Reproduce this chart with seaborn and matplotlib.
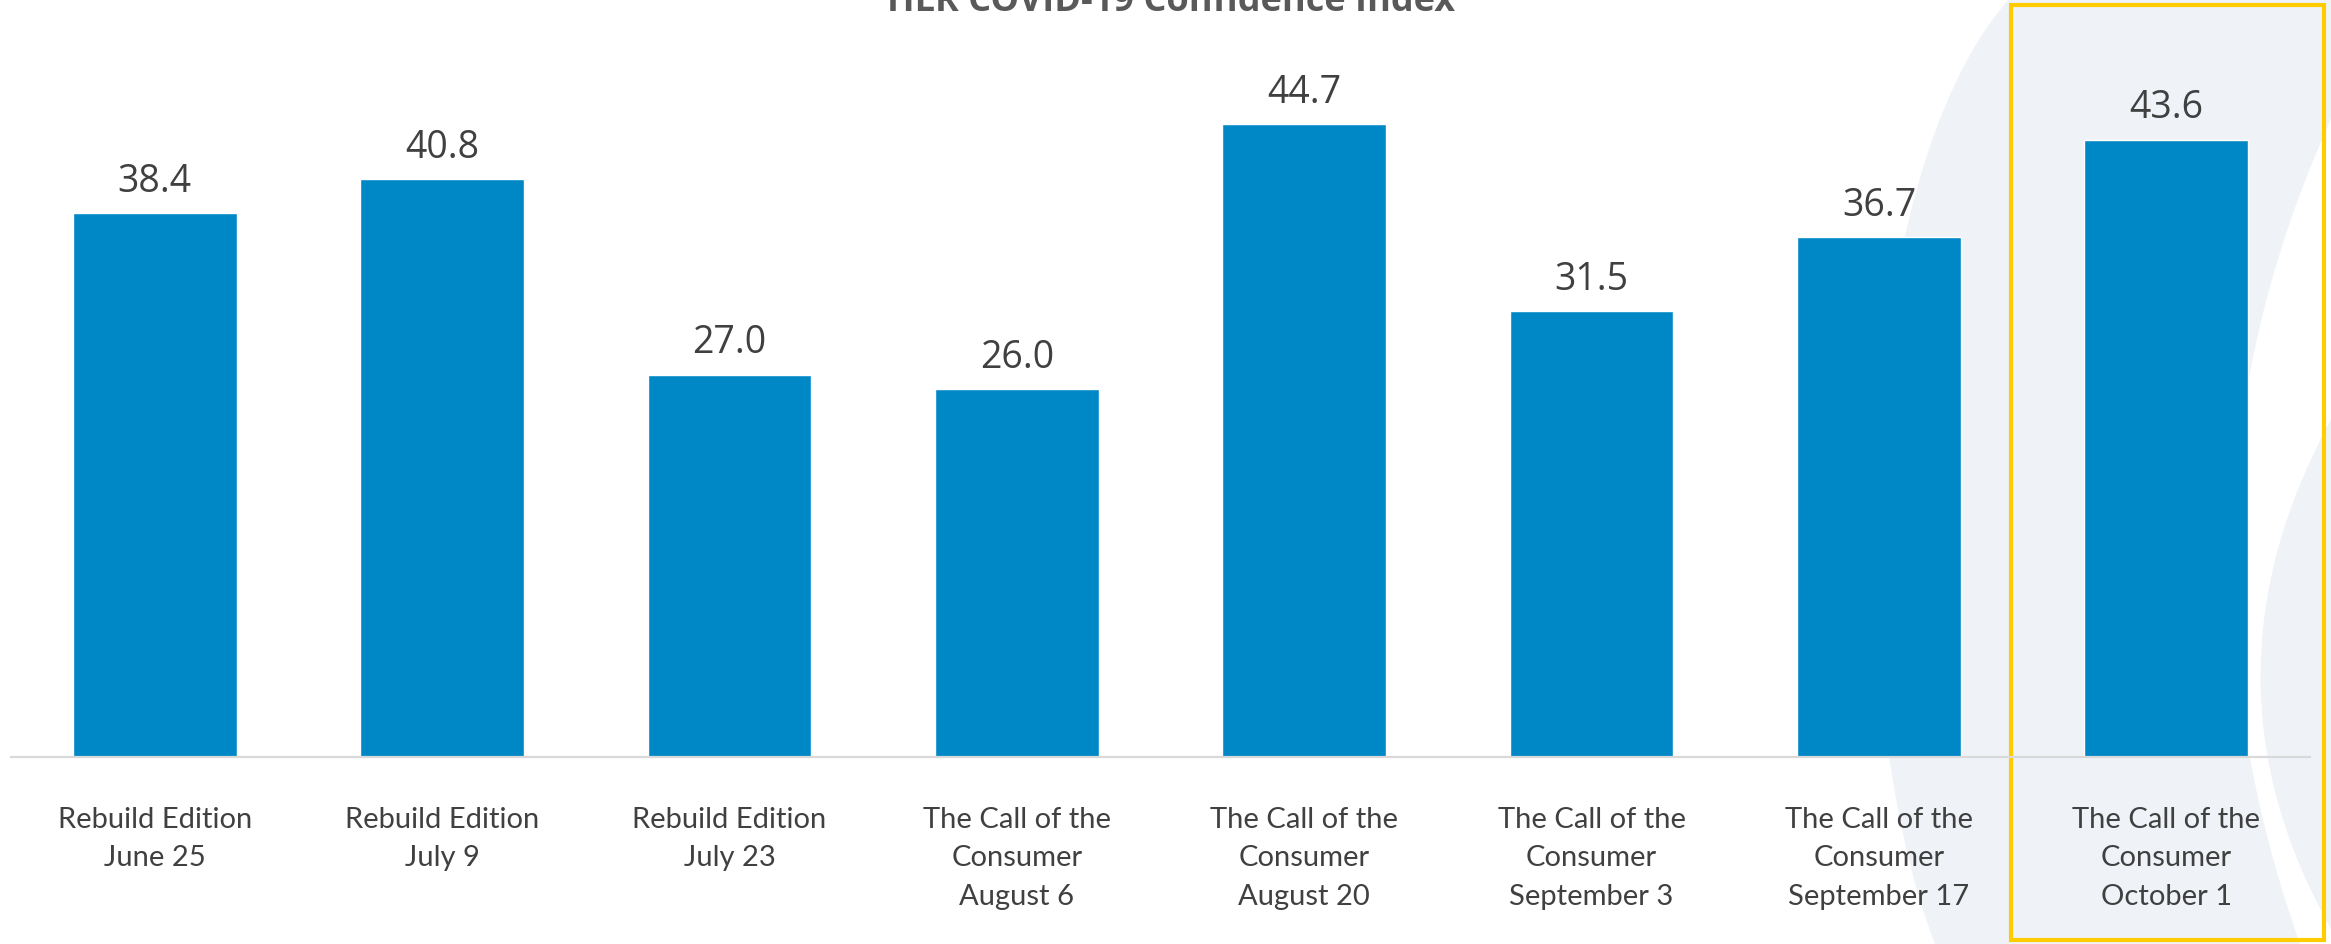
import matplotlib
matplotlib.use("Agg")
import matplotlib.pyplot as plt
from matplotlib.path import Path
from matplotlib.patches import PathPatch, Rectangle
import seaborn as sns
import pandas as pd

title = "HLR COVID-19 Confidence Index"
categories = [
    "Rebuild Edition\nJune 25",
    "Rebuild Edition\nJuly 9",
    "Rebuild Edition\nJuly 23",
    "The Call of the\nConsumer\nAugust 6",
    "The Call of the\nConsumer\nAugust 20",
    "The Call of the\nConsumer\nSeptember 3",
    "The Call of the\nConsumer\nSeptember 17",
    "The Call of the\nConsumer\nOctober 1",
]
values = [38.4, 40.8, 27.0, 26.0, 44.7, 31.5, 36.7, 43.6]

BAR = "#0088C6"
TEXT = "#404040"
PALE = "#EFF3F8"
YELLOW = "#FFCC00"

sns.set_theme(style="white")
plt.rcParams["font.family"] = ["Open Sans", "DejaVu Sans"]

W, H = 2331, 945
fig = plt.figure(figsize=(W / 100, H / 100), dpi=100)
fig.patch.set_facecolor("white")

# background decoration axes in pixel coordinates
bg = fig.add_axes([0, 0, 1, 1], zorder=0)
bg.set_xlim(0, W)
bg.set_ylim(H, 0)
bg.axis("off")
swoosh = Path(
    [(2009, 0), (1850, 180), (1840, 700), (1935, 945), (W, 945), (W, 0), (2009, 0)],
    [Path.MOVETO, Path.CURVE4, Path.CURVE4, Path.CURVE4, Path.LINETO, Path.LINETO, Path.CLOSEPOLY],
)
bg.add_patch(PathPatch(swoosh, facecolor=PALE, edgecolor="none"))
crescent = Path(
    [(W, 120), (2150, 520), (2300, 945), (W, 945), (W, 930), (2190, 680), (W, 420), (W, 120)],
    [Path.MOVETO, Path.CURVE3, Path.CURVE3, Path.LINETO, Path.LINETO, Path.CURVE3, Path.CURVE3, Path.CLOSEPOLY],
)
bg.add_patch(PathPatch(crescent, facecolor="white", edgecolor="none"))

# main axes
ax = fig.add_axes([11 / W, (H - 758) / H, (2310 - 11) / W, 758 / H], zorder=1)
ax.patch.set_alpha(0)
df = pd.DataFrame({"cat": categories, "val": values})
sns.barplot(data=df, x="cat", y="val", color=BAR, saturation=1, width=0.57, ax=ax)
ax.set_xlim(-0.5, len(categories) - 0.5)
ax.set_ylim(0, 758 / 14.16)
ax.set_xlabel("")
ax.set_ylabel("")
ax.set_yticks([])
for s in ["top", "right", "left"]:
    ax.spines[s].set_visible(False)
ax.spines["bottom"].set_color("#D9D9D9")
ax.spines["bottom"].set_linewidth(1.6)
ax.tick_params(axis="x", length=0, pad=35)
for lbl in ax.get_xticklabels():
    lbl.set_fontfamily(["Lato", "DejaVu Sans"])
    lbl.set_fontsize(21)
    lbl.set_color(TEXT)
    lbl.set_linespacing(1.6)

for i, v in enumerate(values):
    ax.annotate(f"{v:.1f}", xy=(i, v), xytext=(0, 16), textcoords="offset points",
                ha="center", va="baseline", fontsize=27, color=TEXT)

# highlight box
bg.add_patch(Rectangle((2011, 6), 2324 - 2011, 941 - 6, facecolor="none",
                       edgecolor=YELLOW, linewidth=3, zorder=5))
fig.text(1171 / W, 1 - 11 / H, title, ha="center", va="baseline", fontsize=26,
         fontweight="bold", color="#595959")

fig.savefig("out.png", dpi=100, facecolor="white")
